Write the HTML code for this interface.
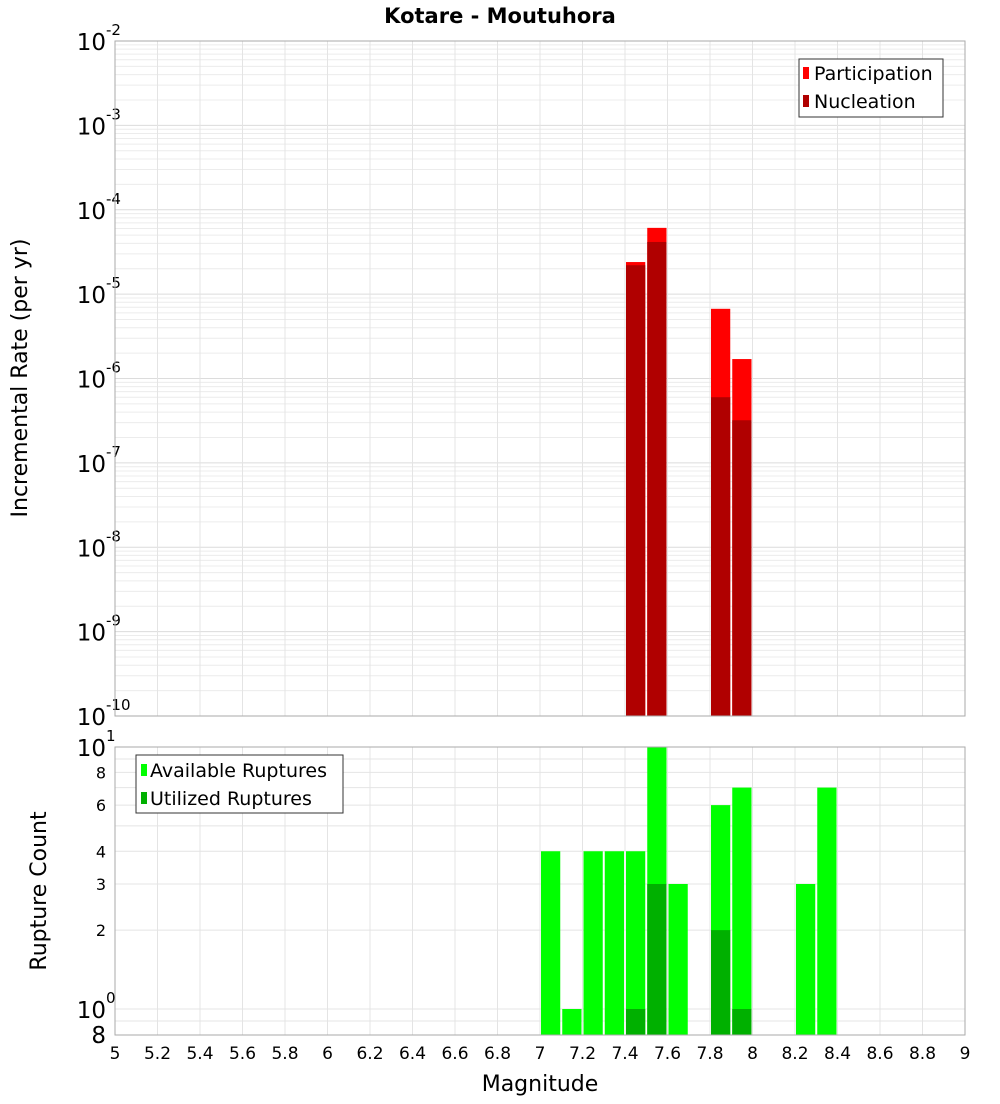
<!DOCTYPE html>
<html><head><meta charset="utf-8"><style>
body{margin:0;background:#fff;font-family:"DejaVu Sans","Liberation Sans",sans-serif;}
svg text{font-family:"DejaVu Sans","Liberation Sans",sans-serif;}
</style></head><body>
<svg id="c" width="1000" height="1100" xmlns="http://www.w3.org/2000/svg">
<text x="500" y="23" text-anchor="middle" font-size="21" font-weight="bold">Kotare - Moutuhora</text>
<text transform="translate(27,378) rotate(-90)" text-anchor="middle" font-size="22">Incremental Rate (per yr)</text>
<text transform="translate(46,891) rotate(-90)" text-anchor="middle" font-size="22">Rupture Count</text>
<text x="540" y="1091" text-anchor="middle" font-size="22">Magnitude</text>
<g id="top"></g><g id="bot"></g><g id="xt"></g>
<g>
<rect x="799" y="59" width="144" height="58" fill="#fff" stroke="#333"/>
<rect x="803" y="67" width="6" height="12" fill="#ff0000"/>
<text x="814" y="80" font-size="19">Participation</text>
<rect x="803" y="95" width="6" height="12" fill="#b00000"/>
<text x="814" y="108" font-size="19">Nucleation</text>
</g>
<g>
<rect x="136" y="755" width="207" height="58" fill="#fff" stroke="#333"/>
<rect x="141" y="764" width="6" height="12" fill="#00ff00"/>
<text x="150" y="777" font-size="19">Available Ruptures</text>
<rect x="141" y="792" width="6" height="12" fill="#00b000"/>
<text x="150" y="805" font-size="19">Utilized Ruptures</text>
</g>
</svg>
<script>
const mags=[7.05,7.15,7.25,7.35,7.45,7.55,7.65,7.85,7.95,8.25,8.35];
const available=[4,1,4,4,4,10,3,6,7,3,7];
const utilMags=[7.45,7.55,7.85,7.95];
const utilized=[1,3,2,1];
const rateMags=[7.45,7.55,7.85,7.95];
const participation=[2.4e-5,6.1e-5,6.7e-6,1.7e-6];
const nucleation=[2.2e-5,4.15e-5,6.0e-7,3.2e-7];
const xTicks=[5,5.2,5.4,5.6,5.8,6,6.2,6.4,6.6,6.8,7,7.2,7.4,7.6,7.8,8,8.2,8.4,8.6,8.8,9];
const topExps=[-2,-3,-4,-5,-6,-7,-8,-9,-10];
const botTicks=[8,6,4,3,2];

const NS="http://www.w3.org/2000/svg";
const L=115,R=965;
const x=m=>L+(m-5)/4*(R-L);
const TT=41,TB=716;
const yT=v=>TT+(-2-Math.log10(v))/8*(TB-TT);
const BT=747,BB=1035;
const yB=v=>1009-Math.log10(v)*262;
function mk(p,tag,a){const e=document.createElementNS(NS,tag);for(const k in a)e.setAttribute(k,a[k]);p.appendChild(e);return e;}
const topG=document.getElementById('top'),botG=document.getElementById('bot'),xtG=document.getElementById('xt');
mk(topG,'rect',{x:L,y:TT,width:R-L,height:TB-TT,fill:'#fff'});
mk(botG,'rect',{x:L,y:BT,width:R-L,height:BB-BT,fill:'#fff'});
for(let e=-10;e<-2;e++)for(let k=1;k<10;k++){const y=yT(k*Math.pow(10,e));
 const g=mk(topG,'line',{x1:L,x2:R,y1:y,y2:y,stroke:k==1?'#dcdcdc':'#ececec','stroke-width':1});
 
 }
for(const t of xTicks){const X=x(t);
 mk(topG,'line',{x1:X,x2:X,y1:TT,y2:TB,stroke:'#e4e4e4'});
 mk(botG,'line',{x1:X,x2:X,y1:BT,y2:BB,stroke:'#e4e4e4'});
 const tx=mk(xtG,'text',{x:X,y:1059,'text-anchor':'middle','font-size':17});tx.textContent=String(t);
 
 }
for(const v of [0.9,1,2,3,4,5,6,7,8,9,10])mk(botG,'line',{x1:L,x2:R,y1:yB(v),y2:yB(v),stroke:'#e4e4e4'});
for(const e of topExps){const y=yT(Math.pow(10,e));
 const t=mk(topG,'text',{x:106,y:y+9,'text-anchor':'end','font-size':23});t.textContent='10';
 
 
 const s=mk(topG,'text',{x:106,y:y-6,'font-size':15});s.textContent=String(e);}
const bw=(R-L)/40;
rateMags.forEach((m,i)=>{const x0=x(m-0.05)+1,w=bw-2;
 const p=mk(topG,'rect',{x:x0,y:yT(participation[i]),width:w,height:TB-yT(participation[i]),fill:'#ff0000'});
 
 
 const n=mk(topG,'rect',{x:x0,y:yT(nucleation[i]),width:w,height:TB-yT(nucleation[i]),fill:'#b00000'});
 
 });
mk(topG,'rect',{x:L,y:TT,width:R-L,height:TB-TT,fill:'none',stroke:'#aaa'});
{const t=mk(botG,'text',{x:106,y:yB(10)+9,'text-anchor':'end','font-size':23});t.textContent='10';
 const s=mk(botG,'text',{x:106,y:yB(10)-6,'font-size':15});s.textContent='1';
 const t2=mk(botG,'text',{x:106,y:yB(1)+9,'text-anchor':'end','font-size':23});t2.textContent='10';
 const s2=mk(botG,'text',{x:106,y:yB(1)-6,'font-size':15});s2.textContent='0';
 const t3=mk(botG,'text',{x:106,y:BB+8,'text-anchor':'end','font-size':23});t3.textContent='8';}
for(const v of botTicks){const t=mk(botG,'text',{x:106,y:yB(v)+6,'text-anchor':'end','font-size':16});t.textContent=String(v);
 
 }
mags.forEach((m,i)=>{const y=yB(available[i]);
 const r=mk(botG,'rect',{x:x(m-0.05)+1,y:y,width:bw-2,height:BB-y,fill:'#00ff00'});
 
 });
utilMags.forEach((m,i)=>{const y=yB(utilized[i]);
 const r=mk(botG,'rect',{x:x(m-0.05)+1,y:y,width:bw-2,height:BB-y,fill:'#00b000'});
 
 });
mk(botG,'rect',{x:L,y:BT,width:R-L,height:BB-BT,fill:'none',stroke:'#aaa'});
</script>
</body></html>
